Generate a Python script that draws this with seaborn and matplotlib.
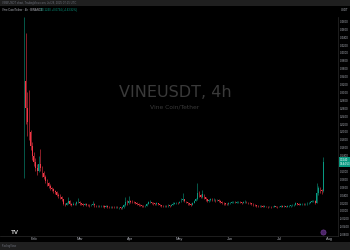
import matplotlib
matplotlib.use("Agg")
import matplotlib.pyplot as plt
import matplotlib.transforms as mtransforms
from matplotlib.patches import Rectangle
import numpy as np
import pandas as pd
import seaborn as sns

# ---------------- data (daily aggregation of the 4h chart) ----------------
start_date = "2025-01-26"
first_open = 0.090
closes = [
    0.330, 0.260, 0.225, 0.200, 0.165, 0.140, 0.125, 0.110, 0.100, 0.120,
    0.108, 0.095, 0.086, 0.076, 0.070, 0.064, 0.058, 0.055, 0.050, 0.047,
    0.041, 0.038, 0.036, 0.030, 0.018, 0.016, 0.020, 0.026, 0.018, 0.016,
    0.018, 0.017, 0.022, 0.024, 0.019, 0.017, 0.016, 0.018, 0.016, 0.015,
    0.014, 0.016, 0.018, 0.014, 0.013, 0.013, 0.012, 0.013, 0.012, 0.011,
    0.012, 0.011, 0.010, 0.011, 0.010, 0.009, 0.010, 0.009, 0.009, 0.008,
    0.009, 0.014, 0.024, 0.020, 0.026, 0.024, 0.023, 0.022, 0.020, 0.018,
    0.016, 0.014, 0.013, 0.012, 0.013, 0.018, 0.022, 0.023, 0.020, 0.019,
    0.018, 0.019, 0.017, 0.015, 0.013, 0.012, 0.013, 0.012, 0.014, 0.013,
    0.015, 0.018, 0.020, 0.021, 0.020, 0.023, 0.028, 0.030, 0.025, 0.022,
    0.019, 0.017, 0.016, 0.020, 0.026, 0.030, 0.045, 0.040, 0.036, 0.042,
    0.035, 0.030, 0.026, 0.028, 0.030, 0.028, 0.029, 0.027, 0.028, 0.026,
    0.023, 0.021, 0.019, 0.018, 0.017, 0.019, 0.021, 0.022, 0.023, 0.021,
    0.022, 0.023, 0.022, 0.021, 0.022, 0.024, 0.022, 0.021, 0.020, 0.018,
    0.016, 0.014, 0.013, 0.012, 0.013, 0.012, 0.011, 0.012, 0.011, 0.010,
    0.011, 0.010, 0.011, 0.012, 0.011, 0.010, 0.011, 0.012, 0.011, 0.012,
    0.011, 0.012, 0.013, 0.014, 0.015, 0.016, 0.019, 0.017, 0.016, 0.017,
    0.018, 0.017, 0.018, 0.019, 0.020, 0.023, 0.025, 0.026, 0.021, 0.045,
    0.058, 0.052, 0.050, 0.124,
]
highs = [
    0.490, 0.450, 0.300, 0.306, 0.205, 0.175, 0.150, 0.135, 0.120, 0.140,
    0.158, 0.115, 0.100, 0.090, 0.082, 0.074, 0.068, 0.062, 0.058, 0.054,
    0.050, 0.045, 0.042, 0.038, 0.031, 0.021, 0.024, 0.036, 0.028, 0.020,
    0.022, 0.021, 0.026, 0.033, 0.025, 0.021, 0.020, 0.021, 0.020, 0.018,
    0.017, 0.018, 0.026, 0.019, 0.016, 0.015, 0.015, 0.016, 0.014, 0.014,
    0.015, 0.014, 0.013, 0.013, 0.013, 0.012, 0.012, 0.012, 0.011, 0.011,
    0.012, 0.018, 0.035, 0.027, 0.038, 0.028, 0.027, 0.025, 0.024, 0.022,
    0.020, 0.018, 0.016, 0.015, 0.016, 0.021, 0.026, 0.027, 0.024, 0.022,
    0.021, 0.022, 0.020, 0.018, 0.016, 0.015, 0.016, 0.015, 0.017, 0.016,
    0.018, 0.022, 0.023, 0.024, 0.024, 0.026, 0.032, 0.045, 0.031, 0.026,
    0.023, 0.020, 0.019, 0.023, 0.029, 0.034, 0.071, 0.050, 0.042, 0.053,
    0.044, 0.036, 0.031, 0.031, 0.034, 0.032, 0.033, 0.031, 0.031, 0.030,
    0.028, 0.025, 0.023, 0.021, 0.020, 0.022, 0.024, 0.025, 0.026, 0.025,
    0.025, 0.026, 0.025, 0.024, 0.025, 0.027, 0.026, 0.024, 0.023, 0.021,
    0.019, 0.017, 0.016, 0.015, 0.015, 0.014, 0.014, 0.014, 0.013, 0.013,
    0.013, 0.012, 0.013, 0.014, 0.013, 0.012, 0.013, 0.014, 0.014, 0.015,
    0.013, 0.014, 0.015, 0.016, 0.017, 0.018, 0.024, 0.020, 0.019, 0.020,
    0.020, 0.020, 0.021, 0.022, 0.023, 0.026, 0.028, 0.029, 0.027, 0.071,
    0.063, 0.061, 0.056, 0.137,
]
lows = [
    0.084, 0.220, 0.190, 0.180, 0.155, 0.130, 0.115, 0.100, 0.092, 0.098,
    0.100, 0.086, 0.080, 0.070, 0.064, 0.058, 0.054, 0.050, 0.046, 0.042,
    0.037, 0.034, 0.031, 0.025, 0.014, 0.013, 0.014, 0.018, 0.015, 0.013,
    0.014, 0.014, 0.016, 0.020, 0.016, 0.014, 0.013, 0.014, 0.013, 0.012,
    0.011, 0.012, 0.014, 0.011, 0.010, 0.010, 0.009, 0.010, 0.009, 0.008,
    0.009, 0.008, 0.008, 0.008, 0.007, 0.007, 0.007, 0.007, 0.006, 0.006,
    0.006, 0.008, 0.013, 0.016, 0.018, 0.020, 0.020, 0.019, 0.017, 0.015,
    0.013, 0.012, 0.010, 0.010, 0.010, 0.012, 0.017, 0.020, 0.017, 0.016,
    0.015, 0.016, 0.014, 0.012, 0.011, 0.010, 0.010, 0.010, 0.011, 0.011,
    0.012, 0.014, 0.017, 0.018, 0.017, 0.019, 0.022, 0.026, 0.022, 0.019,
    0.016, 0.014, 0.013, 0.015, 0.019, 0.025, 0.028, 0.036, 0.032, 0.034,
    0.031, 0.026, 0.022, 0.024, 0.026, 0.025, 0.026, 0.024, 0.025, 0.023,
    0.020, 0.018, 0.016, 0.015, 0.014, 0.016, 0.018, 0.019, 0.020, 0.019,
    0.019, 0.020, 0.019, 0.018, 0.019, 0.020, 0.019, 0.018, 0.017, 0.015,
    0.013, 0.012, 0.011, 0.010, 0.010, 0.010, 0.009, 0.009, 0.009, 0.008,
    0.009, 0.008, 0.009, 0.009, 0.009, 0.008, 0.009, 0.009, 0.009, 0.010,
    0.009, 0.010, 0.010, 0.011, 0.012, 0.013, 0.014, 0.015, 0.014, 0.015,
    0.015, 0.015, 0.016, 0.016, 0.017, 0.019, 0.022, 0.023, 0.018, 0.020,
    0.040, 0.046, 0.044, 0.048,
]
price_ticks = [round(-0.06 + 0.02 * i, 2) for i in range(28)]
hidden_tick = 0.12  # covered by the last-price box
month_ticks = ["2025-02-01", "2025-03-01", "2025-04-01", "2025-05-01",
               "2025-06-01", "2025-07-01", "2025-08-01"]
month_labels = ["Feb", "Mar", "Apr", "May", "Jun", "Jul", "Aug"]
last_price_label = "0.1240"
countdown_label = "01:44:53"

# ---------------- styling ----------------
sns.set_theme(style="dark")
plt.rcParams["font.family"] = ["Liberation Sans", "DejaVu Sans"]
BG = "#000000"
BAR = "#1f1f1f"
UP = "#089981"
DOWN = "#f23645"
TXT = "#b2b5be"

n = len(closes)
dates = pd.date_range(start_date, periods=n, freq="D")
opens = [first_open] + closes[:-1]
df = pd.DataFrame({"date": dates, "open": opens, "high": highs,
                   "low": lows, "close": closes})
df["up"] = df["close"] >= df["open"]
df["color"] = np.where(df["up"], UP, DOWN)
df["body_lo"] = df[["open", "close"]].min(axis=1)
df["body_h"] = (df["close"] - df["open"]).abs().clip(lower=0.0008)

fig = plt.figure(figsize=(3.5, 2.5), dpi=100)
fig.patch.set_facecolor(BG)
W, H = 350.0, 250.0
ax = fig.add_axes([0, 14 / H, 338 / W, (236 - 17) / H])
ax.set_facecolor(BG)

ax.vlines(df["date"], df["low"], df["high"], colors=df["color"], lw=0.4)
ax.bar(df["date"], df["body_h"], bottom=df["body_lo"], width=0.5,
       color=df["color"], linewidth=0)

t0 = pd.Timestamp(start_date)
ax.set_xlim(t0 - pd.Timedelta(days=14.7), t0 + pd.Timedelta(days=192.0))
ax.set_ylim(-0.0633, 0.4911)

ax.yaxis.tick_right()
ax.set_yticks(price_ticks)
ax.set_yticklabels(["" if abs(v - hidden_tick) < 1e-9 else f"{v:.4f}"
                    for v in price_ticks])
ax.set_xticks(pd.to_datetime(month_ticks))
ax.set_xticklabels(month_labels)
ax.tick_params(axis="y", length=0, pad=1.2, labelsize=2.0, labelcolor=TXT)
ax.tick_params(axis="x", length=0, pad=1.0, labelsize=2.8, labelcolor=TXT)
for lab in ax.get_yticklabels():
    lab.set_horizontalalignment("left")
ax.grid(False)
for s in ["top", "left"]:
    ax.spines[s].set_visible(False)
for s in ["right", "bottom"]:
    ax.spines[s].set_color("#2a2a2a")
    ax.spines[s].set_linewidth(0.5)

# last price label box
trans = mtransforms.blended_transform_factory(ax.transAxes, ax.transData)
ax.text(1.005, closes[-1], f"{last_price_label}\n{countdown_label}",
        transform=trans, fontsize=1.9, color="white", va="center", ha="left",
        linespacing=1.15,
        bbox=dict(boxstyle="square,pad=0.3", fc=UP, ec="none"), clip_on=False)

# watermark
ax.text(0.518, 0.655, "VINEUSDT, 4h", transform=ax.transAxes, fontsize=11.5,
        color="#3a3a3a", ha="center", va="center", family="DejaVu Sans")
ax.text(0.518, 0.588, "Vine Coin/Tether", transform=ax.transAxes, fontsize=4.3,
        color="#3a3a3a", ha="center", va="center", family="DejaVu Sans")

# header & footer bars
fig.patches.append(Rectangle((0, 1 - 6 / H), 1, 6 / H, transform=fig.transFigure,
                             fc=BAR, ec="none", zorder=0))
fig.patches.append(Rectangle((0, 0), 1, 8 / H, transform=fig.transFigure,
                             fc=BAR, ec="none", zorder=0))
fig.text(2 / W, 1 - 3 / H, "VINEUSDT chart, TradingView.com, Jul 28, 2025 07:15 UTC",
         fontsize=2.0, color="#6a6d78", va="center", ha="left")
fig.text(2 / W, 1 - 10 / H, "Vine Coin/Tether \u00b7 4h \u00b7 BINANCE",
         fontsize=2.0, color=TXT, va="center", ha="left")
fig.text(40 / W, 1 - 10 / H, "C0.1240 +0.0734 (+143.92%)",
         fontsize=2.0, color=UP, va="center", ha="left")
fig.text(341 / W, 1 - 10 / H, "USDT", fontsize=2.0, color=TXT, va="center", ha="left")
fig.text(2 / W, 4 / H, "TradingView", fontsize=2.0, color="#6a6d78",
         va="center", ha="left")
fig.text(15 / W, 18 / H, "TV", fontsize=4.5, color="#d0d0d0", fontweight="bold",
         va="center", ha="center")
ax.scatter([0.955], [0.02], s=14, color="#4a2466", edgecolors="#7a3fa0",
           linewidths=0.4, transform=ax.transAxes, clip_on=False, zorder=5)

fig.savefig("out.png", dpi=100, facecolor=BG)
